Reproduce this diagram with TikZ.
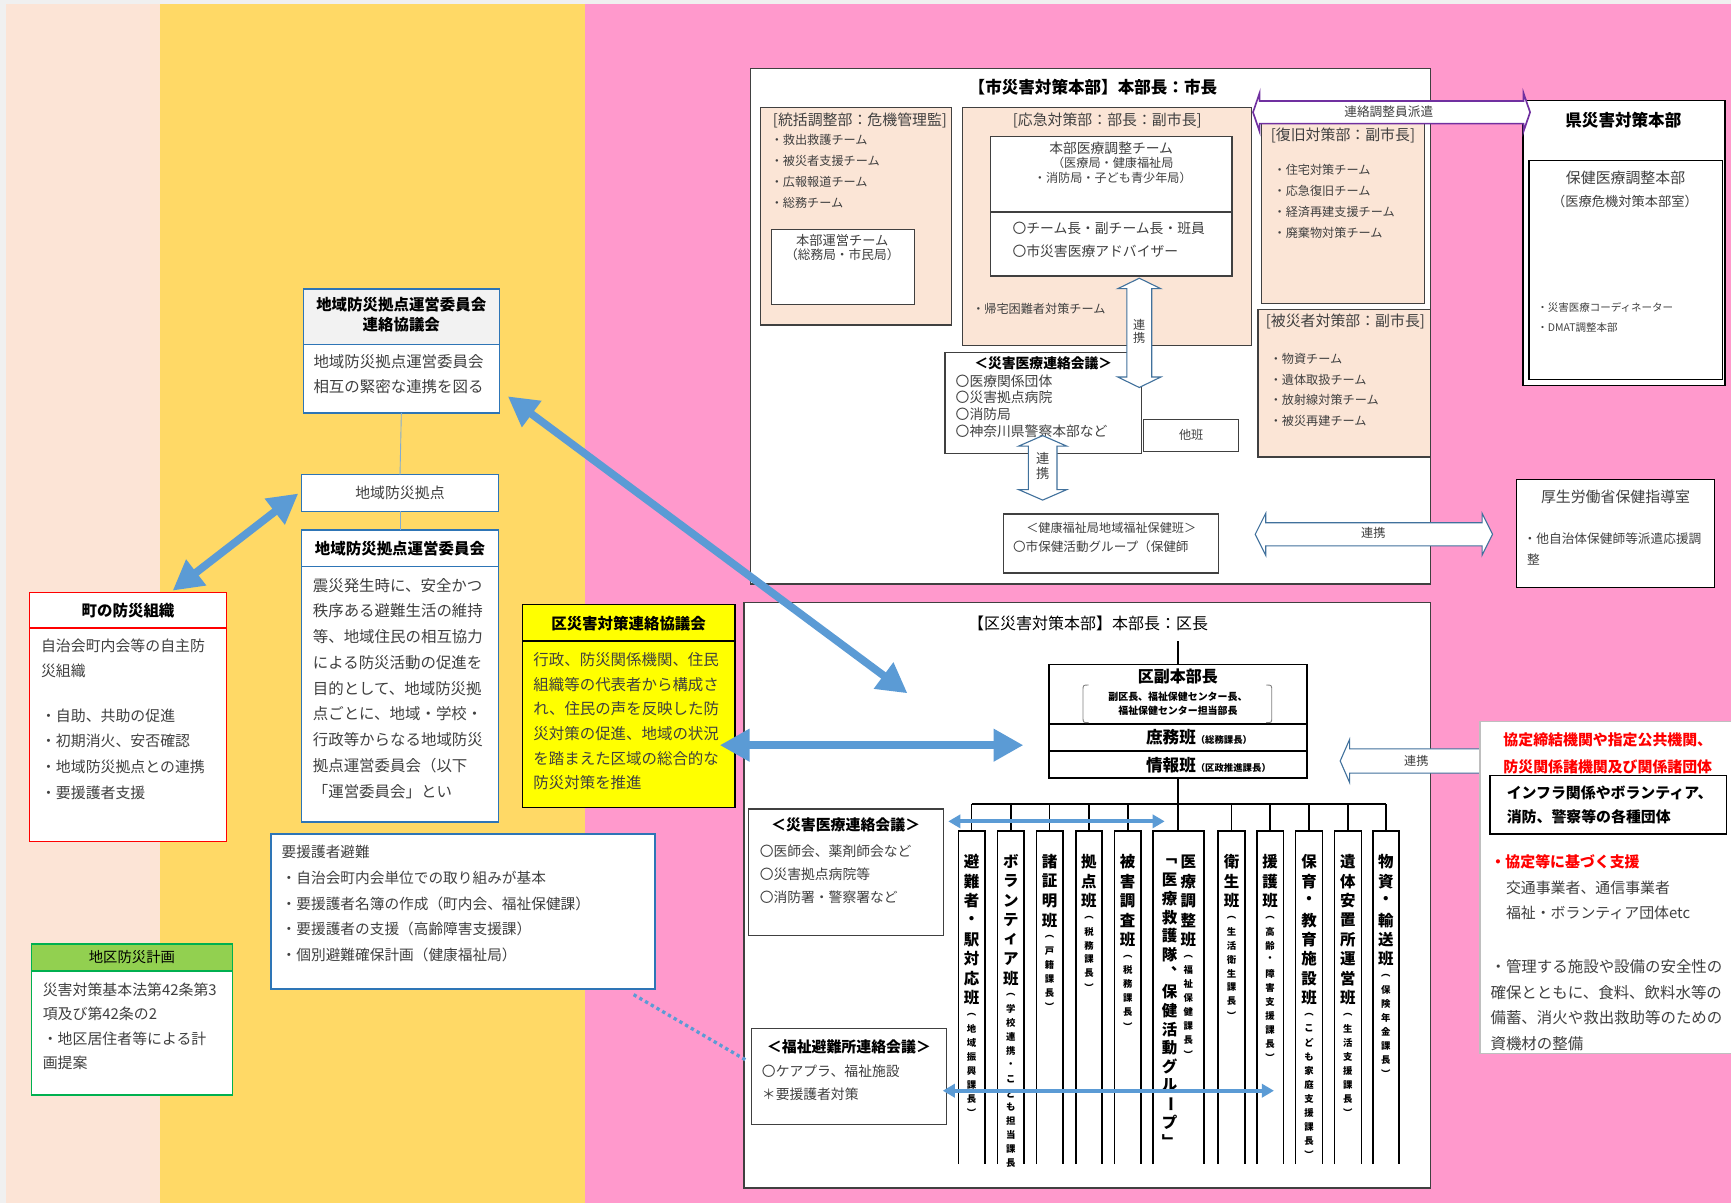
\documentclass[tikz,border=0pt]{standalone}
\usepackage{fontspec}
\setmainfont{Noto Sans CJK JP}
\usetikzlibrary{arrows.meta}
\definecolor{pinkbg}{HTML}{FF99CC}
\definecolor{yellowbg}{HTML}{FFD966}
\definecolor{peachbg}{HTML}{FCE4D6}
\definecolor{peachbox}{HTML}{FBE5D6}
\definecolor{bluearr}{HTML}{5B9BD5}
\definecolor{blueb}{HTML}{2E75B6}
\definecolor{arrout}{HTML}{41719C}
\definecolor{purp}{HTML}{7030A0}
\definecolor{greenh}{HTML}{92D050}
\definecolor{greenb}{HTML}{00B050}
\definecolor{txtc}{HTML}{404040}
\definecolor{bord}{HTML}{404040}
\definecolor{hdrgray}{HTML}{F2F2F2}
\definecolor{lgray}{HTML}{BFBFBF}
\definecolor{ylw}{HTML}{FFFF00}
\definecolor{topgray}{HTML}{F0F0F0}

\newcommand\fs[1]{\fontsize{#1}{#1}\selectfont}
\newcommand\vlong{\rotatebox[origin=c]{-90}{ー}}

\ExplSyntaxOn
\NewDocumentCommand \VStack { m m m }
  {
    \vbox:n
      {
        \offinterlineskip
        \exp_args:No \tl_map_inline:nn {#3}
          {
            \hbox_to_wd:nn {#1}
              { \hfil \vbox_to_ht:nn {#2} { \vss \hbox:n {##1} \vss } \hfil }
          }
      }
  }
\ExplSyntaxOff

\newcommand\VCol[2]{\vbox{\offinterlineskip\bfseries\fs{14}\VStack{20pt}{17.6pt}{#1}\fs{8.5}\VStack{20pt}{12.7pt}{#2}}}

\newcommand\Lines[7]{\foreach \lnx [count=\lnum from 0] in {#7}{\node[inner sep=0,text=txtc,anchor=base west,font=\fs{#3},#2] (#1\lnum) at (#4,{#5+\lnum*#6+0.38*#3}) {\lnx};}}

\newcommand\bx[6]{\node[#6,anchor=north west,inner sep=0,outer sep=0,minimum width={(#4-#2)*1pt},minimum height={(#5-#3)*1pt}] (#1) at (#2,#3) {};}

\newcommand\VBA[6]{% cx top bot shaft head hl
 \draw[blockarr] ({#1-#4/2},{#2+#6}) -- ({#1-#5/2},{#2+#6}) -- (#1,#2) -- ({#1+#5/2},{#2+#6}) -- ({#1+#4/2},{#2+#6}) -- ({#1+#4/2},{#3-#6}) -- ({#1+#5/2},{#3-#6}) -- (#1,#3) -- ({#1-#5/2},{#3-#6}) -- ({#1-#4/2},{#3-#6}) -- cycle;}
\newcommand\HBA[7]{% cy left right shaft head hl style
 \draw[#7] (#2,#1) -- ({#2+#6},{#1-#5/2}) -- ({#2+#6},{#1-#4/2}) -- ({#3-#6},{#1-#4/2}) -- ({#3-#6},{#1-#5/2}) -- (#3,#1) -- ({#3-#6},{#1+#5/2}) -- ({#3-#6},{#1+#4/2}) -- ({#2+#6},{#1+#4/2}) -- ({#2+#6},{#1+#5/2}) -- cycle;}

\tikzset{
 bold/.style={execute at begin node=\bfseries},
 k/.style={text=black},
 ctr/.style={anchor=base},
 abox/.style={draw=bord, line width=1pt, fill=white},
 pbox/.style={draw=bord, line width=1pt, fill=peachbox},
 bbox/.style={draw=blueb, line width=1.3pt, fill=white},
 blockarr/.style={draw=arrout, line width=1pt, fill=white, line join=miter},
 bigarr/.style={draw=bluearr, line width=7pt, >={Triangle[length=27pt,width=28pt]}, <->},
 thinarr/.style={draw=bluearr, line width=3.5pt, >={Triangle[length=11pt,width=12pt]}, <->},
 org/.style={draw=black, line width=1.5pt},
 conn/.style={draw=blueb!60, line width=0.8pt},
}

\begin{document}
\begin{tikzpicture}[x=1pt,y=-1pt]
\useasboundingbox (0,0) rectangle (1568,1090);
% backgrounds
\fill[topgray] (0,0) rectangle (1568,1090);
\fill[peachbg] (5,4) rectangle (145,1090);
\fill[yellowbg] (145,4) rectangle (530,1090);
\fill[pinkbg] (530,4) rectangle (1568,1090);

% ---------- left side ----------
\bx{machi}{27}{537}{205}{762}{draw=red, line width=1.2pt, fill=white}
\draw[red, line width=1.2pt] (27,569) -- (205,569);
\Lines{machiT}{ctr,bold,k}{14}{116}{553}{0}{町の防災組織}
\Lines{machiA}{}{13.5}{37}{585}{23}{自治会町内会等の自主防,災組織}
\Lines{machiB}{}{13.5}{37}{648}{23.5}{・自助、共助の促進,・初期消火、安否確認,・地域防災拠点との連携,・要援護者支援}

\bx{chiku}{28.7}{855}{210.4}{992}{draw=greenb, line width=1.2pt, fill=white}
\filldraw[fill=greenh, draw=greenb, line width=1.2pt] (28.7,855) rectangle (210.4,879.5);
\Lines{chikuT}{ctr,k}{13}{119.5}{866.5}{0}{地区防災計画}
\Lines{chikuA}{}{13.5}{38.6}{896.7}{22.1}{災害対策基本法第42条第3,項及び第42条の2,・地区居住者等による計,画提案}

\bx{kyo}{274.8}{261.7}{452.3}{374}{bbox}
\filldraw[fill=hdrgray, draw=blueb, line width=1.3pt] (274.8,261.7) rectangle (452.3,312);
\Lines{kyoT}{ctr,bold,k}{14}{363.5}{275.6}{18.4}{地域防災拠点運営委員会,連絡協議会}
\Lines{kyoB}{}{14}{283.8}{327.4}{23.2}{地域防災拠点運営委員会,相互の緊密な連携を図る}

\bx{kyoten}{273.3}{430}{451.4}{463.2}{bbox}
\Lines{kyotenT}{ctr}{13.5}{362.3}{446}{0}{地域防災拠点}

\bx{iin}{273.3}{480}{451.4}{744.6}{bbox}
\draw[blueb, line width=1.3pt] (273.3,513.4) -- (451.4,513.4);
\Lines{iinT}{ctr,bold,k}{14}{362.3}{497}{0}{地域防災拠点運営委員会}
\Lines{iinB}{}{14}{283.2}{530.1}{23.35}{震災発生時に、安全かつ,秩序ある避難生活の維持,等、地域住民の相互協力,による防災活動の促進を,目的として、地域防災拠,点ごとに、地域・学校・,行政等からなる地域防災,拠点運営委員会（以下,「運営委員会」とい}
\draw[conn] (kyo.south) -- (kyoten.north);
\draw[conn] (kyoten.south) -- (iin.north);

\bx{yogo}{245.5}{755.4}{593.3}{895.8}{bbox}
\Lines{yogoB}{}{13.3}{255}{772}{23.25}{要援護者避難,・自治会町内会単位での取り組みが基本,・要援護者名簿の作成（町内会、福祉保健課）,・要援護者の支援（高齢障害支援課）,・個別避難確保計画（健康福祉局）}

\bx{kuren}{473}{547.4}{665.8}{731.3}{draw=black, line width=1pt, fill=ylw}
\draw[black, line width=1pt] (473,580.6) -- (665.8,580.6);
\Lines{kurenT}{ctr,bold,k}{14}{569.4}{564.6}{0}{区災害対策連絡協議会}
\Lines{kurenB}{}{14}{483}{597.8}{22.25}{行政、防災関係機関、住民,組織等の代表者から構成さ,れ、住民の声を反映した防,災対策の促進、地域の状況,を踏まえた区域の総合的な,防災対策を推進}

% ---------- city HQ ----------
\bx{city}{680}{62}{1296}{529}{draw=bord, line width=1.2pt, fill=white}
\Lines{cityT}{ctr,bold,k}{15}{990}{79}{0}{【市災害対策本部】本部長：市長}

\bx{touk}{688.5}{97.5}{861.5}{294.4}{pbox}
\Lines{toukT}{}{13.5}{700}{108.7}{0}{{[統括調整部：危機管理監]}}
\Lines{toukI}{}{11}{698}{126.8}{18.95}{・救出救護チーム,・被災者支援チーム,・広報報道チーム,・総務チーム}
\bx{honbu}{698.5}{207.5}{828}{276}{abox}
\Lines{honbuT}{ctr}{12}{763}{217.4}{0}{本部運営チーム}
\Lines{honbuS}{ctr}{11.5}{763}{231}{0}{（総務局・市民局）}

\bx{ouky}{871.5}{97.5}{1134}{313}{pbox}
\Lines{oukyT}{ctr}{13.5}{1003}{108.7}{0}{{[応急対策部：部長：副市長]}}
\bx{med}{897}{124}{1116}{250}{abox}
\draw[bord, line width=1pt] (897,192) -- (1116,192);
\Lines{medA}{ctr}{12.5}{1006.5}{134}{0}{本部医療調整チーム}
\Lines{medB}{ctr}{11}{1008}{147.8}{13.6}{（医療局・健康福祉局,・消防局・子ども青少年局）}
\Lines{medC}{}{12.5}{917}{206.5}{21.5}{〇チーム長・副チーム長・班員,〇市災害医療アドバイザー}
\Lines{kitaku}{}{11}{880.5}{280}{0}{・帰宅困難者対策チーム}

\bx{fukkyu}{1143}{110.7}{1290}{275}{pbox}
\Lines{fukkyuT}{ctr}{13.5}{1216.5}{122}{0}{{[復旧対策部：副市長]}}
\Lines{fukkyuI}{}{11}{1153.5}{154}{19}{・住宅対策チーム,・応急復旧チーム,・経済再建支援チーム,・廃棄物対策チーム}

\bx{hisai}{1139.5}{280}{1296}{414}{pbox}
\Lines{hisaiT}{ctr}{13.5}{1218.7}{291}{0}{{[被災者対策部：副市長]}}
\Lines{hisaiI}{}{11}{1150}{325}{18.7}{・物資チーム,・遺体取扱チーム,・放射線対策チーム,・被災再建チーム}

\bx{cmed}{856}{319}{1034}{411}{abox}
\Lines{cmedT}{ctr,bold,k}{12.5}{945}{329}{0}{＜災害医療連絡会議＞}
\Lines{cmedI}{}{12.5}{865.5}{345}{15.15}{〇医療関係団体,〇災害拠点病院,〇消防局,〇神奈川県警察本部など}

\bx{tahan}{1036}{380}{1122}{409}{abox}
\Lines{tahanT}{ctr}{11}{1079}{394}{0}{他班}

\bx{kenko}{909}{465.6}{1104}{519}{abox}
\Lines{kenkoT}{ctr}{11}{1006.6}{478}{0}{＜健康福祉局地域福祉保健班＞}
\Lines{kenkoI}{}{11.4}{917.5}{495}{0}{〇市保健活動グループ（保健師}

% block arrows in city box
\VBA{1032}{252}{351}{22.5}{39}{9.5}
\node[inner sep=0, text=txtc] (renkei1) at (1032,300.3) {\fs{11}\VStack{14pt}{11.5pt}{連携}};
\VBA{944.5}{394.6}{453}{26}{43.6}{9.5}
\node[inner sep=0, text=txtc] (renkei2) at (944.5,421.9) {\fs{12}\VStack{14pt}{13.7pt}{連携}};
\HBA{484}{1137}{1352}{21}{38}{9.5}{blockarr}
\Lines{renkei3}{ctr}{11}{1244}{483}{0}{連携}

% prefecture
\bx{ken}{1379.5}{91}{1562.5}{349}{draw=black, line width=1.2pt, fill=white}
\bx{kenin}{1385}{145.5}{1560}{344}{draw=black, line width=1pt, fill=white}
\Lines{kenT}{ctr,bold,k}{15}{1470.5}{108.7}{0}{県災害対策本部}
\Lines{keninA}{ctr}{13.5}{1472.5}{161}{0}{保健医療調整本部}
\Lines{keninB}{ctr}{12}{1472}{182.7}{0}{（医療危機対策本部室）}
\Lines{keninC}{}{9.5}{1392.5}{279}{18}{・災害医療コーディネーター,・DMAT調整本部}

\HBA{101.7}{1135}{1386}{20.5}{35}{6}{draw=purp, line width=1.5pt, fill=white, line join=miter}
\Lines{hakenT}{ctr}{11.5}{1258}{101}{0}{連絡調整員派遣}

\bx{kousei}{1374}{434}{1553}{532}{draw=black, line width=1pt, fill=white}
\Lines{kouseiT}{ctr}{13.5}{1463.4}{450}{0}{厚生労働省保健指導室}
\Lines{kouseiA}{}{11.5}{1380}{487.5}{0}{・他自治体保健師等派遣応援調}
\Lines{kouseiB}{}{11.5}{1383}{507}{0}{整}

% ---------- district HQ ----------
\bx{ku}{674}{546}{1296}{1076}{draw=bord, line width=1.2pt, fill=white}
\Lines{kuT}{ctr,k}{14.5}{985.6}{564.5}{0}{【区災害対策本部】本部長：区長}

\bx{fuku}{950}{602}{1184}{705}{org, fill=white}
\draw[org] (950,656) -- (1184,656);
\draw[org] (950,680) -- (1184,680);
\Lines{fukuT}{ctr,bold,k}{14.5}{1067}{613}{0}{区副本部長}
\Lines{fukuS}{ctr,bold,k}{9}{1067}{631}{13.2}{副区長、福祉保健センター長、,福祉保健センター担当部長}
\draw[gray, line width=0.8pt] (986,620.5) .. controls (981,620.5) .. (981,626) -- (981,649) .. controls (981,654.6) .. (986,654.6);
\draw[gray, line width=0.8pt] (1147,620.5) .. controls (1152,620.5) .. (1152,626) -- (1152,649) .. controls (1152,654.6) .. (1147,654.6);
\node[inner sep=0, anchor=base west, text=black, font=\fs{15}] (shomu) at (1038,{668+0.38*15}) {\bfseries 庶務班\fs{8.5}（総務課長）};
\node[inner sep=0, anchor=base west, text=black, font=\fs{15}] (joho) at (1038,{693+0.38*15}) {\bfseries 情報班\fs{8.5}（区政推進課長）};

\coordinate (dtop) at (1067,581);
\coordinate (barM) at (1067,728.5);
\coordinate (barL) at (880.1,728.5);
\coordinate (barR) at (1255.4,728.5);
\draw[org] (dtop) -- (fuku.north);
\draw[org] (fuku.south) -- (barM);
\draw[org] (barL) -- (barR);

\foreach \cl/\cr/\cm/\cs [count=\cc] in {868.1/892.1/避難者・駅対応班/︵地域振興課長︶, 903.7/927.7/ボランティア班/︵学校連携・こども担当課長, 938.8/962.8/諸証明班/︵戸籍課長︶, 974.4/998.4/拠点班/︵税務課長︶, 1009.5/1033.5/被害調査班/︵税務課長︶, 1103.3/1127.7/衛生班/︵生活衛生課長︶, 1138.4/1162.5/援護班/︵高齢・障害支援課長︶, 1173.6/1198/保育・教育施設班/︵こども家庭支援課長︶, 1208.7/1233.2/遺体安置所運営班/︵生活支援課長︶, 1243.4/1267.4/物資・輸送班/︵保険年金課長︶}{
  \draw[org] (\cl,1054.6) |- (\cr,753) -- (\cr,1054.6);
  \coordinate (ctop\cc) at ({(\cl+\cr)/2},753);
  \draw[org] ({(\cl+\cr)/2},728.5) -- (ctop\cc);
  \node[anchor=north, inner sep=0, text=black] (col\cc) at ({(\cl+\cr)/2},771.7) {\VCol{\cm}{\cs}};
}
% column 6 (medical)
\draw[org] (1044.6,1054.6) |- (1090.5,753) -- (1090.5,1054.6);
\draw[org] (barM) -- (1067,753);
\node[anchor=north, inner sep=0, text=black] (col6a) at (1076.5,771.7) {\VCol{医療調整班}{︵福祉保健課長︶}};
\node[anchor=north, inner sep=0, text=black] (col6b) at (1059.4,771.7) {\bfseries\fs{14}\VStack{18pt}{16.9pt}{﹁医療救護隊︑保健活動グル\vlong プ﹂}};

\bx{dmed}{677.8}{732.8}{855}{847.5}{abox}
\Lines{dmedT}{ctr,bold,k}{13.5}{766}{747.3}{0}{＜災害医療連絡会議＞}
\Lines{dmedI}{}{12.5}{688}{770.8}{21.1}{〇医師会、薬剤師会など,〇災害拠点病院等,〇消防署・警察署など}

\bx{fukushi}{681}{931.5}{857.5}{1018.4}{abox}
\Lines{fukushiT}{ctr,bold,k}{13.5}{769}{948}{0}{＜福祉避難所連絡会議＞}
\Lines{fukushiI}{}{12.5}{690}{970}{21}{〇ケアプラ、福祉施設,＊要援護者対策}

\HBA{689.3}{1214}{1352}{22}{39}{8.5}{blockarr}
\Lines{renkei4}{ctr}{11}{1283}{689}{0}{連携}

% right box
\bx{kyotei}{1340.6}{653.7}{1580}{954}{draw=lgray, line width=1.2pt, fill=white}
\Lines{kyR}{bold,text=red}{13.5}{1361.7}{670.3}{24.7}{協定締結機関や指定公共機関、,防災関係諸機関及び関係諸団体}
\bx{infra}{1349.6}{702.6}{1564}{755.4}{draw=black, line width=1.5pt, fill=white}
\Lines{infraT}{bold,k}{13.5}{1364.7}{718.6}{21.7}{インフラ関係やボランティア、,消防、警察等の各種団体}
\Lines{kyoA}{bold,text=red}{13.5}{1350}{780.5}{0}{・協定等に基づく支援}
\Lines{kyoB}{}{13.5}{1364}{804.6}{22.7}{交通事業者、通信事業者,福祉・ボランティア団体etc}
\Lines{kyoC}{}{14}{1350}{875.6}{23.1}{・管理する施設や設備の安全性の,確保とともに、食料、飲料水等の,備蓄、消火や救出救助等のための,資機材の整備}

% ---------- blue arrows ----------
\coordinate (aA1) at (460,359);
\coordinate (aA2) at (822,628);
\coordinate (aB1) at (652,675);
\coordinate (aB2) at (927,675);
\coordinate (aC1) at (156.4,535);
\coordinate (aC2) at (270.2,447);
\draw[bigarr] (aA1) -- (aA2);
\draw[bigarr] (aB1) -- (aB2);
\draw[bigarr] (aC1) -- (aC2);
\coordinate (t1a) at (859,744);
\coordinate (t1b) at (1055,744);
\coordinate (t2a) at (854,988);
\coordinate (t2b) at (1154,988);
\draw[thinarr] (t1a) -- (t1b);
\draw[thinarr] (t2a) -- (t2b);
\coordinate (dotS) at (574,901);
\coordinate (dotE) at (677,961);
\draw[bluearr, line width=3pt, dash pattern=on 3pt off 3pt] (dotS) -- (dotE);
\end{tikzpicture}
\end{document}
